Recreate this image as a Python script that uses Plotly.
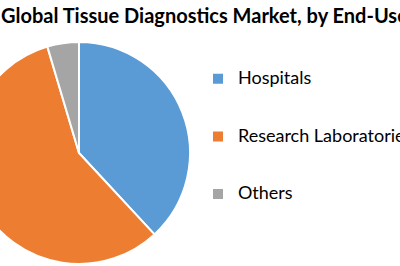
import plotly.graph_objects as go

# ---- data ----
categories = ["Hospitals", "Research Laboratories", "Others"]
shares = [38.1, 57.3, 4.6]
colors = ["#5B9BD5", "#ED7D31", "#A5A5A5"]
title_text = "Global Tissue Diagnostics Market, by End-User"

# ---- layout geometry (screen px) ----
W, H = 560, 266
SHIFT = 40            # figure is shifted left so the pie is cropped like the reference
cx, cy, r = 79 + SHIFT, 153, 111

legend_labels = [" <br><span style='font-size:18px'>%s</span><br> " % c for c in categories]

fig = go.Figure(
    go.Pie(
        labels=legend_labels,
        values=shares,
        sort=False,
        direction="clockwise",
        rotation=0,
        textinfo="none",
        hovertext=categories,
        hoverinfo="text+percent",
        marker=dict(colors=colors, line=dict(color="white", width=2)),
        domain=dict(x=[(cx - r) / W, (cx + r) / W],
                    y=[(H - cy - r) / H, (H - cy + r) / H]),
    )
)

fig.update_layout(
    width=W,
    height=H,
    margin=dict(l=0, r=0, t=0, b=0),
    paper_bgcolor="white",
    plot_bgcolor="white",
    title=dict(
        text=title_text,
        font=dict(family="Lato, sans-serif", size=20,
                  color="#000000", weight="bold"),
        x=(SHIFT + 1) / W, xref="container", xanchor="left",
        y=1 - 16 / H, yref="container", yanchor="middle",
        automargin=False,
    ),
    showlegend=True,
    legend=dict(
        x=(198 + SHIFT) / W, xanchor="left",
        y=(H - 45) / H, yanchor="top",
        font=dict(family="Lato, sans-serif", size=14, color="#000000"),
        bgcolor="rgba(0,0,0,0)",
        borderwidth=0,
        traceorder="normal",
    ),
)

post = ("var gd=document.getElementById('{plot_id}');"
        "gd.style.marginLeft='-%dpx';"
        "document.body.style.margin='0';"
        "document.body.style.overflow='hidden';") % SHIFT

fig.write_html("out.html", config={"displayModeBar": False}, post_script=post)
